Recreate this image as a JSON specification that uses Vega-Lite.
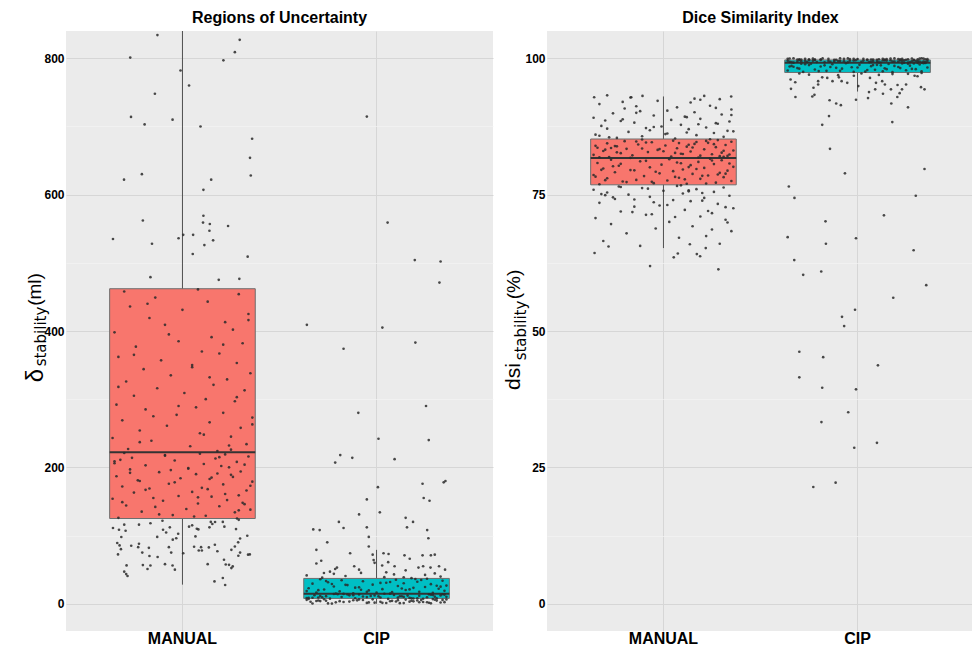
{
"$schema":"https://vega.github.io/schema/vega-lite/v6.json",
"autosize":{"type":"pad"},
"padding":{"left":23,"top":10,"right":0,"bottom":0},
"background":"#ffffff",
"bounds":"flush",
"spacing":54,
"config":{"view":{"fill":"#EBEBEB","stroke":null},"font":"Liberation Sans",
 "title":{"font":"Liberation Sans","fontSize":16,"fontWeight":"bold","color":"#000000","offset":5,"anchor":"middle"}},
"datasets":{
"roiBox":[{"g":"MANUAL","lo":28,"q1":125,"med":222,"q3":462,"hi":967},{"g":"CIP","lo":0,"q1":7.8,"med":14.7,"q3":37.1,"hi":79}],
"dsiBox":[{"g":"MANUAL","lo":65.2,"q1":76.8,"med":81.7,"q3":85.2,"hi":93.0},{"g":"CIP","lo":93.9,"q1":97.4,"med":99.2,"q3":99.7,"hi":100}],
"roi":[
{"g":"MANUAL","j":-0.358,"v":111},{"g":"MANUAL","j":-0.327,"v":108.5},{"g":"MANUAL","j":-0.30,"v":116},{"g":"MANUAL","j":-0.293,"v":107},{"g":"MANUAL","j":-0.315,"v":97.8},{"g":"MANUAL","j":-0.336,"v":89},{"g":"MANUAL","j":-0.324,"v":85.5},{"g":"MANUAL","j":-0.317,"v":80},{"g":"MANUAL","j":-0.332,"v":72.3},{"g":"MANUAL","j":-0.288,"v":56.2},{"g":"MANUAL","j":-0.30,"v":47},{"g":"MANUAL","j":-0.29,"v":43.5},{"g":"MANUAL","j":-0.283,"v":40.6},{"g":"MANUAL","j":-0.264,"v":85},{"g":"MANUAL","j":-0.224,"v":116},{"g":"MANUAL","j":-0.224,"v":88},{"g":"MANUAL","j":-0.228,"v":83},{"g":"MANUAL","j":-0.207,"v":75},{"g":"MANUAL","j":-0.204,"v":56.7},{"g":"MANUAL","j":-0.18,"v":51},{"g":"MANUAL","j":-0.165,"v":56},{"g":"MANUAL","j":-0.173,"v":82},{"g":"MANUAL","j":-0.17,"v":70},{"g":"MANUAL","j":-0.165,"v":118},{"g":"MANUAL","j":-0.13,"v":98},{"g":"MANUAL","j":-0.128,"v":68.5},{"g":"MANUAL","j":-0.103,"v":121.7},{"g":"MANUAL","j":-0.10,"v":108.5},{"g":"MANUAL","j":-0.084,"v":104.5},{"g":"MANUAL","j":-0.065,"v":112},{"g":"MANUAL","j":-0.07,"v":83},{"g":"MANUAL","j":-0.058,"v":75},{"g":"MANUAL","j":-0.09,"v":58},{"g":"MANUAL","j":-0.051,"v":56},{"g":"MANUAL","j":-0.039,"v":50},{"g":"MANUAL","j":-0.05,"v":94},{"g":"MANUAL","j":-0.032,"v":96},{"g":"MANUAL","j":-0.022,"v":102.6},{"g":"MANUAL","j":0.004,"v":74},{"g":"MANUAL","j":0.034,"v":113},{"g":"MANUAL","j":0.05,"v":115},{"g":"MANUAL","j":0.067,"v":98.7},{"g":"MANUAL","j":0.074,"v":110},{"g":"MANUAL","j":0.082,"v":109},{"g":"MANUAL","j":0.06,"v":83.6},{"g":"MANUAL","j":0.084,"v":78},{"g":"MANUAL","j":0.096,"v":83},{"g":"MANUAL","j":0.10,"v":78},{"g":"MANUAL","j":0.13,"v":58},{"g":"MANUAL","j":0.136,"v":82.6},{"g":"MANUAL","j":0.167,"v":86.5},{"g":"MANUAL","j":0.18,"v":77},{"g":"MANUAL","j":0.165,"v":32.7},{"g":"MANUAL","j":0.208,"v":37.7},{"g":"MANUAL","j":0.22,"v":27.4},{"g":"MANUAL","j":0.214,"v":64.5},{"g":"MANUAL","j":0.223,"v":57.6},{"g":"MANUAL","j":0.24,"v":57},{"g":"MANUAL","j":0.259,"v":54.7},{"g":"MANUAL","j":0.252,"v":52.3},{"g":"MANUAL","j":0.146,"v":120},{"g":"MANUAL","j":0.154,"v":117},{"g":"MANUAL","j":0.139,"v":112},{"g":"MANUAL","j":0.168,"v":119.8},{"g":"MANUAL","j":0.208,"v":120},{"g":"MANUAL","j":0.216,"v":113},{"g":"MANUAL","j":0.276,"v":109.5},{"g":"MANUAL","j":0.252,"v":79},{"g":"MANUAL","j":0.27,"v":84},{"g":"MANUAL","j":0.287,"v":90},{"g":"MANUAL","j":0.297,"v":95.7},{"g":"MANUAL","j":0.288,"v":70.4},{"g":"MANUAL","j":0.297,"v":75},{"g":"MANUAL","j":0.338,"v":72},{"g":"MANUAL","j":0.347,"v":72.3},{"g":"MANUAL","j":0.334,"v":99.7},{"g":"MANUAL","j":0.281,"v":125},{"g":"MANUAL","j":0.29,"v":123},
{"g":"MANUAL","j":-0.33,"v":126},{"g":"MANUAL","j":0.12,"v":129},{"g":"MANUAL","j":-0.05,"v":130},{"g":"MANUAL","j":0.27,"v":134},{"g":"MANUAL","j":-0.21,"v":135},{"g":"MANUAL","j":0.35,"v":138},{"g":"MANUAL","j":0.02,"v":139},{"g":"MANUAL","j":-0.14,"v":142},{"g":"MANUAL","j":0.19,"v":143},{"g":"MANUAL","j":-0.29,"v":144},{"g":"MANUAL","j":0.08,"v":147},{"g":"MANUAL","j":0.31,"v":148},{"g":"MANUAL","j":-0.10,"v":151},{"g":"MANUAL","j":0.23,"v":152},{"g":"MANUAL","j":-0.36,"v":154},{"g":"MANUAL","j":0.15,"v":157},{"g":"MANUAL","j":-0.02,"v":158},{"g":"MANUAL","j":0.29,"v":159},{"g":"MANUAL","j":-0.25,"v":163},{"g":"MANUAL","j":0.05,"v":164},{"g":"MANUAL","j":0.33,"v":166},{"g":"MANUAL","j":-0.17,"v":169},{"g":"MANUAL","j":0.10,"v":170},{"g":"MANUAL","j":-0.31,"v":172},{"g":"MANUAL","j":0.21,"v":175},{"g":"MANUAL","j":-0.07,"v":176},{"g":"MANUAL","j":0.36,"v":179},{"g":"MANUAL","j":-0.23,"v":181},{"g":"MANUAL","j":0.14,"v":183},{"g":"MANUAL","j":-0.01,"v":184},{"g":"MANUAL","j":0.26,"v":186},{"g":"MANUAL","j":-0.34,"v":187},{"g":"MANUAL","j":0.07,"v":190},{"g":"MANUAL","j":0.18,"v":191},{"g":"MANUAL","j":-0.12,"v":193},{"g":"MANUAL","j":0.30,"v":194},{"g":"MANUAL","j":-0.27,"v":197},{"g":"MANUAL","j":0.03,"v":199},{"g":"MANUAL","j":0.24,"v":200},{"g":"MANUAL","j":-0.19,"v":203},{"g":"MANUAL","j":0.11,"v":205},{"g":"MANUAL","j":-0.35,"v":206},{"g":"MANUAL","j":0.28,"v":208},{"g":"MANUAL","j":-0.04,"v":210},{"g":"MANUAL","j":0.17,"v":213},{"g":"MANUAL","j":-0.26,"v":214},{"g":"MANUAL","j":0.34,"v":216},{"g":"MANUAL","j":-0.09,"v":218},{"g":"MANUAL","j":0.22,"v":219},{"g":"MANUAL","j":-0.30,"v":221},{"g":"MANUAL","j":0.06,"v":128},{"g":"MANUAL","j":0.32,"v":146},{"g":"MANUAL","j":-0.15,"v":155},{"g":"MANUAL","j":0.13,"v":168},{"g":"MANUAL","j":-0.22,"v":180},{"g":"MANUAL","j":0.25,"v":189},{"g":"MANUAL","j":-0.06,"v":196},{"g":"MANUAL","j":0.20,"v":202},{"g":"MANUAL","j":-0.32,"v":211},{"g":"MANUAL","j":0.09,"v":220},
{"g":"MANUAL","j":0.18,"v":224},{"g":"MANUAL","j":-0.28,"v":227},{"g":"MANUAL","j":0.04,"v":231},{"g":"MANUAL","j":0.33,"v":234},{"g":"MANUAL","j":-0.16,"v":239},{"g":"MANUAL","j":-0.36,"v":243},{"g":"MANUAL","j":0.25,"v":245},{"g":"MANUAL","j":0.09,"v":250},{"g":"MANUAL","j":-0.22,"v":254},{"g":"MANUAL","j":0.30,"v":258},{"g":"MANUAL","j":-0.08,"v":261},{"g":"MANUAL","j":0.14,"v":266},{"g":"MANUAL","j":-0.31,"v":269},{"g":"MANUAL","j":0.36,"v":273},{"g":"MANUAL","j":-0.03,"v":277},{"g":"MANUAL","j":0.21,"v":280},{"g":"MANUAL","j":-0.19,"v":285},{"g":"MANUAL","j":0.07,"v":288},{"g":"MANUAL","j":-0.34,"v":292},{"g":"MANUAL","j":0.27,"v":297},{"g":"MANUAL","j":0.12,"v":300},{"g":"MANUAL","j":-0.25,"v":305},{"g":"MANUAL","j":0.01,"v":309},{"g":"MANUAL","j":0.32,"v":313},{"g":"MANUAL","j":-0.13,"v":316},{"g":"MANUAL","j":0.16,"v":321},{"g":"MANUAL","j":-0.29,"v":326},{"g":"MANUAL","j":0.23,"v":329},{"g":"MANUAL","j":-0.06,"v":335},{"g":"MANUAL","j":0.35,"v":338},{"g":"MANUAL","j":-0.20,"v":344},{"g":"MANUAL","j":0.05,"v":347},{"g":"MANUAL","j":0.28,"v":353},{"g":"MANUAL","j":-0.11,"v":357},{"g":"MANUAL","j":-0.33,"v":362},{"g":"MANUAL","j":0.19,"v":367},{"g":"MANUAL","j":0.10,"v":370},{"g":"MANUAL","j":-0.24,"v":377},{"g":"MANUAL","j":0.31,"v":382},{"g":"MANUAL","j":-0.02,"v":385},{"g":"MANUAL","j":0.15,"v":391},{"g":"MANUAL","j":-0.35,"v":398},{"g":"MANUAL","j":0.26,"v":402},{"g":"MANUAL","j":-0.09,"v":409},{"g":"MANUAL","j":0.22,"v":413},{"g":"MANUAL","j":-0.17,"v":419},{"g":"MANUAL","j":0.34,"v":425},{"g":"MANUAL","j":0.00,"v":431},{"g":"MANUAL","j":-0.27,"v":436},{"g":"MANUAL","j":0.13,"v":443},{"g":"MANUAL","j":-0.14,"v":449},{"g":"MANUAL","j":0.29,"v":454},{"g":"MANUAL","j":-0.30,"v":458},{"g":"MANUAL","j":0.08,"v":461},{"g":"MANUAL","j":0.24,"v":232},
{"g":"MANUAL","j":-0.12,"v":131},{"g":"MANUAL","j":0.29,"v":137},{"g":"MANUAL","j":-0.31,"v":149},{"g":"MANUAL","j":0.08,"v":156},{"g":"MANUAL","j":0.22,"v":161},{"g":"MANUAL","j":-0.19,"v":167},{"g":"MANUAL","j":0.35,"v":173},{"g":"MANUAL","j":-0.04,"v":178},{"g":"MANUAL","j":0.15,"v":185},{"g":"MANUAL","j":-0.27,"v":192},{"g":"MANUAL","j":0.03,"v":198},{"g":"MANUAL","j":0.32,"v":204},{"g":"MANUAL","j":-0.35,"v":209},{"g":"MANUAL","j":0.19,"v":215},{"g":"MANUAL","j":-0.09,"v":217},{"g":"MANUAL","j":0.25,"v":226},{"g":"MANUAL","j":-0.22,"v":237},{"g":"MANUAL","j":0.11,"v":248},{"g":"MANUAL","j":0.36,"v":263},{"g":"MANUAL","j":-0.15,"v":275},{"g":"MANUAL","j":-0.02,"v":290},{"g":"MANUAL","j":0.28,"v":303},{"g":"MANUAL","j":-0.33,"v":318},{"g":"MANUAL","j":0.14,"v":332},{"g":"MANUAL","j":0.05,"v":350},{"g":"MANUAL","j":-0.25,"v":365},{"g":"MANUAL","j":0.21,"v":380},{"g":"MANUAL","j":-0.07,"v":395},{"g":"MANUAL","j":0.34,"v":416},{"g":"MANUAL","j":-0.18,"v":440},
{"g":"MANUAL","j":-0.129,"v":834},{"g":"MANUAL","j":-0.269,"v":801},{"g":"MANUAL","j":0.295,"v":827},{"g":"MANUAL","j":0.27,"v":809},{"g":"MANUAL","j":0.211,"v":797},{"g":"MANUAL","j":-0.01,"v":782},{"g":"MANUAL","j":0.034,"v":760},{"g":"MANUAL","j":-0.142,"v":748},{"g":"MANUAL","j":-0.265,"v":714},{"g":"MANUAL","j":-0.051,"v":710},{"g":"MANUAL","j":-0.195,"v":703},{"g":"MANUAL","j":0.093,"v":700},{"g":"MANUAL","j":0.359,"v":682},{"g":"MANUAL","j":0.348,"v":654},{"g":"MANUAL","j":0.352,"v":628},{"g":"MANUAL","j":-0.209,"v":630},{"g":"MANUAL","j":-0.301,"v":622},{"g":"MANUAL","j":0.148,"v":622},{"g":"MANUAL","j":0.108,"v":607},{"g":"MANUAL","j":0.108,"v":569},{"g":"MANUAL","j":0.106,"v":559},{"g":"MANUAL","j":0.141,"v":557},{"g":"MANUAL","j":0.139,"v":547},{"g":"MANUAL","j":0.235,"v":554},{"g":"MANUAL","j":-0.204,"v":562},{"g":"MANUAL","j":-0.358,"v":535},{"g":"MANUAL","j":-0.157,"v":528},{"g":"MANUAL","j":-0.02,"v":536},{"g":"MANUAL","j":0.004,"v":541},{"g":"MANUAL","j":0.055,"v":541},{"g":"MANUAL","j":0.158,"v":533},{"g":"MANUAL","j":0.113,"v":526},{"g":"MANUAL","j":0.053,"v":513},{"g":"MANUAL","j":0.336,"v":509},{"g":"MANUAL","j":-0.165,"v":479},{"g":"MANUAL","j":0.187,"v":475},{"g":"MANUAL","j":0.293,"v":476.5},
{"g":"CIP","j":-0.33,"v":0.3},{"g":"CIP","j":0.12,"v":0.8},{"g":"CIP","j":-0.05,"v":1.2},{"g":"CIP","j":0.27,"v":1.5},{"g":"CIP","j":-0.21,"v":2.0},{"g":"CIP","j":0.35,"v":2.3},{"g":"CIP","j":0.02,"v":2.8},{"g":"CIP","j":-0.14,"v":3.1},{"g":"CIP","j":0.19,"v":3.5},{"g":"CIP","j":-0.29,"v":3.9},{"g":"CIP","j":0.08,"v":4.2},{"g":"CIP","j":0.31,"v":4.6},{"g":"CIP","j":-0.10,"v":5.0},{"g":"CIP","j":0.23,"v":5.3},{"g":"CIP","j":-0.36,"v":5.7},{"g":"CIP","j":0.15,"v":6.1},{"g":"CIP","j":-0.02,"v":6.4},{"g":"CIP","j":0.29,"v":6.8},{"g":"CIP","j":-0.25,"v":0.5},{"g":"CIP","j":0.05,"v":1.0},{"g":"CIP","j":0.33,"v":1.8},{"g":"CIP","j":-0.17,"v":2.5},{"g":"CIP","j":0.10,"v":3.3},{"g":"CIP","j":-0.31,"v":4.0},{"g":"CIP","j":0.21,"v":4.8},{"g":"CIP","j":-0.07,"v":5.5},{"g":"CIP","j":0.36,"v":6.2},{"g":"CIP","j":-0.23,"v":0.2},{"g":"CIP","j":0.14,"v":0.9},{"g":"CIP","j":-0.01,"v":1.6},{"g":"CIP","j":0.26,"v":2.1},{"g":"CIP","j":-0.34,"v":2.9},{"g":"CIP","j":0.07,"v":3.7},{"g":"CIP","j":0.18,"v":4.4},{"g":"CIP","j":-0.12,"v":5.1},{"g":"CIP","j":0.30,"v":5.9},{"g":"CIP","j":-0.27,"v":6.6},{"g":"CIP","j":0.03,"v":1.3},{"g":"CIP","j":0.24,"v":2.6},{"g":"CIP","j":-0.19,"v":3.8},{"g":"CIP","j":0.11,"v":5.2},{"g":"CIP","j":-0.35,"v":6.9},{"g":"CIP","j":0.28,"v":0.6},{"g":"CIP","j":-0.04,"v":1.9},{"g":"CIP","j":0.17,"v":3.0},{"g":"CIP","j":-0.26,"v":4.3},{"g":"CIP","j":0.34,"v":5.6},{"g":"CIP","j":-0.09,"v":6.3},{"g":"CIP","j":0.22,"v":2.2},{"g":"CIP","j":-0.30,"v":4.7},
{"g":"CIP","j":0.06,"v":7.1},{"g":"CIP","j":-0.24,"v":7.4},{"g":"CIP","j":0.31,"v":7.8},{"g":"CIP","j":-0.11,"v":8.1},{"g":"CIP","j":0.17,"v":8.5},{"g":"CIP","j":-0.35,"v":8.8},{"g":"CIP","j":0.02,"v":9.2},{"g":"CIP","j":0.26,"v":9.5},{"g":"CIP","j":-0.18,"v":9.9},{"g":"CIP","j":0.36,"v":10.2},{"g":"CIP","j":-0.07,"v":10.6},{"g":"CIP","j":0.13,"v":10.9},{"g":"CIP","j":-0.29,"v":11.3},{"g":"CIP","j":0.22,"v":11.7},{"g":"CIP","j":-0.01,"v":12.0},{"g":"CIP","j":-0.32,"v":12.4},{"g":"CIP","j":0.09,"v":12.8},{"g":"CIP","j":0.28,"v":13.1},{"g":"CIP","j":-0.15,"v":13.5},{"g":"CIP","j":0.34,"v":13.9},{"g":"CIP","j":-0.22,"v":14.2},{"g":"CIP","j":0.04,"v":14.6},{"g":"CIP","j":0.19,"v":7.6},{"g":"CIP","j":-0.36,"v":8.3},{"g":"CIP","j":0.11,"v":9.0},{"g":"CIP","j":-0.05,"v":9.7},{"g":"CIP","j":0.30,"v":10.4},{"g":"CIP","j":-0.26,"v":11.1},{"g":"CIP","j":0.16,"v":11.9},{"g":"CIP","j":-0.12,"v":12.6},{"g":"CIP","j":0.35,"v":13.3},{"g":"CIP","j":-0.20,"v":14.0},{"g":"CIP","j":0.07,"v":14.8},{"g":"CIP","j":0.24,"v":7.3},{"g":"CIP","j":-0.33,"v":8.7},{"g":"CIP","j":0.14,"v":10.0},{"g":"CIP","j":-0.03,"v":11.5},{"g":"CIP","j":0.29,"v":12.9},{"g":"CIP","j":-0.17,"v":14.4},{"g":"CIP","j":0.21,"v":8.0},{"g":"CIP","j":-0.28,"v":9.4},{"g":"CIP","j":0.01,"v":10.8},{"g":"CIP","j":0.33,"v":12.2},{"g":"CIP","j":-0.09,"v":13.7},{"g":"CIP","j":0.18,"v":7.9},{"g":"CIP","j":-0.30,"v":9.1},{"g":"CIP","j":0.12,"v":11.0},{"g":"CIP","j":-0.14,"v":12.3},{"g":"CIP","j":0.27,"v":13.8},{"g":"CIP","j":-0.21,"v":14.9},
{"g":"CIP","j":-0.12,"v":15.3},{"g":"CIP","j":0.29,"v":15.9},{"g":"CIP","j":-0.31,"v":16.5},{"g":"CIP","j":0.08,"v":17.0},{"g":"CIP","j":0.22,"v":17.6},{"g":"CIP","j":-0.19,"v":18.2},{"g":"CIP","j":0.35,"v":18.9},{"g":"CIP","j":-0.04,"v":19.5},{"g":"CIP","j":0.15,"v":20.1},{"g":"CIP","j":-0.27,"v":20.8},{"g":"CIP","j":0.03,"v":21.4},{"g":"CIP","j":0.32,"v":22.0},{"g":"CIP","j":-0.35,"v":22.7},{"g":"CIP","j":0.19,"v":23.3},{"g":"CIP","j":-0.09,"v":24.0},{"g":"CIP","j":0.25,"v":24.6},{"g":"CIP","j":-0.22,"v":25.3},{"g":"CIP","j":0.11,"v":26.0},{"g":"CIP","j":0.36,"v":26.6},{"g":"CIP","j":-0.15,"v":27.3},{"g":"CIP","j":-0.02,"v":28.0},{"g":"CIP","j":0.28,"v":28.7},{"g":"CIP","j":-0.33,"v":29.4},{"g":"CIP","j":0.14,"v":30.1},{"g":"CIP","j":0.05,"v":30.8},{"g":"CIP","j":-0.25,"v":31.5},{"g":"CIP","j":0.21,"v":32.2},{"g":"CIP","j":-0.07,"v":33.0},{"g":"CIP","j":0.34,"v":33.7},{"g":"CIP","j":-0.18,"v":34.4},{"g":"CIP","j":0.10,"v":35.2},{"g":"CIP","j":-0.29,"v":35.9},{"g":"CIP","j":0.26,"v":36.6},{"g":"CIP","j":0.00,"v":16.2},{"g":"CIP","j":-0.36,"v":18.5},{"g":"CIP","j":0.17,"v":21.0},{"g":"CIP","j":-0.11,"v":23.6},{"g":"CIP","j":0.31,"v":26.3},{"g":"CIP","j":-0.23,"v":29.0},{"g":"CIP","j":0.07,"v":31.8},{"g":"CIP","j":0.23,"v":34.8},{"g":"CIP","j":-0.05,"v":17.3},{"g":"CIP","j":-0.30,"v":19.9},{"g":"CIP","j":0.13,"v":22.4},{"g":"CIP","j":0.33,"v":25.0},{"g":"CIP","j":-0.16,"v":27.7},{"g":"CIP","j":0.02,"v":30.5},{"g":"CIP","j":-0.26,"v":33.4},{"g":"CIP","j":0.20,"v":36.2},{"g":"CIP","j":-0.08,"v":20.5},
{"g":"CIP","j":0.18,"v":37.5},{"g":"CIP","j":-0.28,"v":38.2},{"g":"CIP","j":0.04,"v":39.0},{"g":"CIP","j":0.33,"v":39.8},{"g":"CIP","j":-0.16,"v":40.6},{"g":"CIP","j":-0.36,"v":41.5},{"g":"CIP","j":0.25,"v":42.3},{"g":"CIP","j":0.09,"v":43.0},{"g":"CIP","j":-0.22,"v":43.8},{"g":"CIP","j":0.30,"v":44.5},{"g":"CIP","j":-0.08,"v":45.2},{"g":"CIP","j":0.14,"v":38.8},
{"g":"CIP","j":-0.05,"v":714.5},{"g":"CIP","j":0.057,"v":559},{"g":"CIP","j":0.197,"v":504},{"g":"CIP","j":0.33,"v":502},{"g":"CIP","j":0.324,"v":471},{"g":"CIP","j":-0.359,"v":409},{"g":"CIP","j":0.03,"v":405},{"g":"CIP","j":0.2,"v":383},{"g":"CIP","j":-0.17,"v":374},{"g":"CIP","j":-0.094,"v":280},{"g":"CIP","j":0.255,"v":290},{"g":"CIP","j":0.269,"v":240},{"g":"CIP","j":0.01,"v":242},{"g":"CIP","j":-0.187,"v":218},{"g":"CIP","j":-0.125,"v":214},{"g":"CIP","j":-0.213,"v":207},{"g":"CIP","j":0.093,"v":212},{"g":"CIP","j":0.007,"v":171},{"g":"CIP","j":0.237,"v":176},{"g":"CIP","j":0.346,"v":178},{"g":"CIP","j":0.355,"v":180},{"g":"CIP","j":0.243,"v":155},{"g":"CIP","j":0.273,"v":151},{"g":"CIP","j":-0.05,"v":153},{"g":"CIP","j":-0.09,"v":131},{"g":"CIP","j":0.017,"v":134},{"g":"CIP","j":-0.194,"v":120},{"g":"CIP","j":-0.17,"v":111},{"g":"CIP","j":0.15,"v":126},{"g":"CIP","j":0.188,"v":120},{"g":"CIP","j":0.157,"v":112},{"g":"CIP","j":-0.05,"v":112},{"g":"CIP","j":0.261,"v":108},{"g":"CIP","j":0.267,"v":96},{"g":"CIP","j":-0.326,"v":109},{"g":"CIP","j":-0.293,"v":108},{"g":"CIP","j":-0.254,"v":90},{"g":"CIP","j":-0.04,"v":98},{"g":"CIP","j":-0.31,"v":79},{"g":"CIP","j":-0.04,"v":84},{"g":"CIP","j":-0.285,"v":63},{"g":"CIP","j":-0.31,"v":59},{"g":"CIP","j":-0.136,"v":74},{"g":"CIP","j":-0.02,"v":72},{"g":"CIP","j":0.036,"v":74},{"g":"CIP","j":0.062,"v":73},{"g":"CIP","j":0.144,"v":71},{"g":"CIP","j":0.171,"v":66},{"g":"CIP","j":0.237,"v":71},{"g":"CIP","j":0.28,"v":71},{"g":"CIP","j":0.30,"v":72},{"g":"CIP","j":-0.015,"v":64},{"g":"CIP","j":-0.01,"v":60},{"g":"CIP","j":0.06,"v":61},{"g":"CIP","j":-0.115,"v":55},{"g":"CIP","j":-0.09,"v":50},{"g":"CIP","j":-0.204,"v":53},{"g":"CIP","j":-0.213,"v":51},{"g":"CIP","j":0.029,"v":56},{"g":"CIP","j":0.093,"v":55},{"g":"CIP","j":0.15,"v":49},{"g":"CIP","j":0.216,"v":53},{"g":"CIP","j":0.24,"v":55},{"g":"CIP","j":0.278,"v":53},{"g":"CIP","j":0.322,"v":55},{"g":"CIP","j":0.353,"v":50},{"g":"CIP","j":0.05,"v":46},{"g":"CIP","j":-0.271,"v":45},{"g":"CIP","j":-0.24,"v":47}
],
"dsi":[
{"g":"MANUAL","j":-0.12,"v":65.6},{"g":"MANUAL","j":0.29,"v":66.0},{"g":"MANUAL","j":-0.31,"v":66.5},{"g":"MANUAL","j":0.08,"v":67.1},{"g":"MANUAL","j":0.22,"v":67.4},{"g":"MANUAL","j":-0.19,"v":67.9},{"g":"MANUAL","j":0.35,"v":68.3},{"g":"MANUAL","j":-0.04,"v":68.8},{"g":"MANUAL","j":0.15,"v":69.2},{"g":"MANUAL","j":-0.27,"v":69.6},{"g":"MANUAL","j":0.03,"v":70.0},{"g":"MANUAL","j":0.32,"v":70.4},{"g":"MANUAL","j":-0.35,"v":70.7},{"g":"MANUAL","j":0.19,"v":71.0},{"g":"MANUAL","j":-0.09,"v":71.3},{"g":"MANUAL","j":0.25,"v":71.6},{"g":"MANUAL","j":-0.22,"v":71.9},{"g":"MANUAL","j":0.11,"v":72.2},{"g":"MANUAL","j":0.36,"v":72.5},{"g":"MANUAL","j":-0.15,"v":72.8},{"g":"MANUAL","j":-0.02,"v":73.0},{"g":"MANUAL","j":0.28,"v":73.3},{"g":"MANUAL","j":-0.33,"v":73.5},{"g":"MANUAL","j":0.14,"v":73.8},{"g":"MANUAL","j":0.05,"v":74.0},{"g":"MANUAL","j":-0.25,"v":74.2},{"g":"MANUAL","j":0.21,"v":74.4},{"g":"MANUAL","j":-0.07,"v":74.6},{"g":"MANUAL","j":0.34,"v":74.8},{"g":"MANUAL","j":-0.18,"v":75.0},{"g":"MANUAL","j":0.10,"v":75.2},{"g":"MANUAL","j":-0.29,"v":75.4},{"g":"MANUAL","j":0.26,"v":75.5},{"g":"MANUAL","j":0.00,"v":75.7},{"g":"MANUAL","j":-0.36,"v":75.9},{"g":"MANUAL","j":0.17,"v":76.0},{"g":"MANUAL","j":-0.11,"v":76.2},{"g":"MANUAL","j":0.31,"v":76.3},{"g":"MANUAL","j":-0.23,"v":76.5},{"g":"MANUAL","j":0.07,"v":76.6},{"g":"MANUAL","j":0.23,"v":72.0},{"g":"MANUAL","j":-0.05,"v":73.6},{"g":"MANUAL","j":-0.30,"v":74.9},{"g":"MANUAL","j":0.13,"v":75.8},{"g":"MANUAL","j":0.33,"v":69.9},{"g":"MANUAL","j":-0.16,"v":71.8},{"g":"MANUAL","j":0.02,"v":73.1},{"g":"MANUAL","j":-0.26,"v":74.5},{"g":"MANUAL","j":0.20,"v":75.3},{"g":"MANUAL","j":-0.08,"v":76.1},{"g":"MANUAL","j":0.06,"v":70.9},{"g":"MANUAL","j":0.32,"v":72.7},{"g":"MANUAL","j":-0.15,"v":74.1},{"g":"MANUAL","j":0.13,"v":75.6},{"g":"MANUAL","j":-0.22,"v":76.4},{"g":"MANUAL","j":0.25,"v":68.6},{"g":"MANUAL","j":-0.06,"v":71.4},{"g":"MANUAL","j":0.20,"v":73.9},{"g":"MANUAL","j":-0.32,"v":75.1},{"g":"MANUAL","j":0.09,"v":76.7},
{"g":"MANUAL","j":-0.33,"v":76.9},{"g":"MANUAL","j":0.12,"v":77.0},{"g":"MANUAL","j":-0.05,"v":77.1},{"g":"MANUAL","j":0.27,"v":77.2},{"g":"MANUAL","j":-0.21,"v":77.4},{"g":"MANUAL","j":0.35,"v":77.5},{"g":"MANUAL","j":0.02,"v":77.6},{"g":"MANUAL","j":-0.14,"v":77.7},{"g":"MANUAL","j":0.19,"v":77.9},{"g":"MANUAL","j":-0.29,"v":78.0},{"g":"MANUAL","j":0.08,"v":78.1},{"g":"MANUAL","j":0.31,"v":78.2},{"g":"MANUAL","j":-0.10,"v":78.4},{"g":"MANUAL","j":0.23,"v":78.5},{"g":"MANUAL","j":-0.36,"v":78.6},{"g":"MANUAL","j":0.15,"v":78.8},{"g":"MANUAL","j":-0.02,"v":78.9},{"g":"MANUAL","j":0.29,"v":79.0},{"g":"MANUAL","j":-0.25,"v":79.1},{"g":"MANUAL","j":0.05,"v":79.3},{"g":"MANUAL","j":0.33,"v":79.4},{"g":"MANUAL","j":-0.17,"v":79.5},{"g":"MANUAL","j":0.10,"v":79.6},{"g":"MANUAL","j":-0.31,"v":79.8},{"g":"MANUAL","j":0.21,"v":79.9},{"g":"MANUAL","j":-0.07,"v":80.0},{"g":"MANUAL","j":0.36,"v":80.1},{"g":"MANUAL","j":-0.23,"v":80.3},{"g":"MANUAL","j":0.14,"v":80.4},{"g":"MANUAL","j":-0.01,"v":80.5},{"g":"MANUAL","j":0.26,"v":80.6},{"g":"MANUAL","j":-0.34,"v":80.8},{"g":"MANUAL","j":0.07,"v":80.9},{"g":"MANUAL","j":0.18,"v":81.0},{"g":"MANUAL","j":-0.12,"v":81.1},{"g":"MANUAL","j":0.30,"v":81.3},{"g":"MANUAL","j":-0.27,"v":81.4},{"g":"MANUAL","j":0.03,"v":81.5},{"g":"MANUAL","j":0.24,"v":81.6},{"g":"MANUAL","j":-0.19,"v":77.3},{"g":"MANUAL","j":0.11,"v":77.8},{"g":"MANUAL","j":-0.35,"v":78.3},{"g":"MANUAL","j":0.28,"v":78.7},{"g":"MANUAL","j":-0.04,"v":79.2},{"g":"MANUAL","j":0.17,"v":79.7},{"g":"MANUAL","j":-0.26,"v":80.2},{"g":"MANUAL","j":0.34,"v":80.7},{"g":"MANUAL","j":-0.09,"v":81.2},{"g":"MANUAL","j":0.22,"v":77.05},{"g":"MANUAL","j":-0.30,"v":77.65},{"g":"MANUAL","j":0.06,"v":78.25},{"g":"MANUAL","j":0.32,"v":78.85},{"g":"MANUAL","j":-0.15,"v":79.45},{"g":"MANUAL","j":0.13,"v":80.05},{"g":"MANUAL","j":-0.22,"v":80.65},{"g":"MANUAL","j":0.25,"v":81.25},{"g":"MANUAL","j":-0.06,"v":77.35},{"g":"MANUAL","j":0.20,"v":78.45},{"g":"MANUAL","j":-0.32,"v":79.55},{"g":"MANUAL","j":0.09,"v":80.75},
{"g":"MANUAL","j":0.18,"v":81.8},{"g":"MANUAL","j":-0.28,"v":81.9},{"g":"MANUAL","j":0.04,"v":82.0},{"g":"MANUAL","j":0.33,"v":82.1},{"g":"MANUAL","j":-0.16,"v":82.2},{"g":"MANUAL","j":-0.36,"v":82.3},{"g":"MANUAL","j":0.25,"v":82.4},{"g":"MANUAL","j":0.09,"v":82.5},{"g":"MANUAL","j":-0.22,"v":82.6},{"g":"MANUAL","j":0.30,"v":82.7},{"g":"MANUAL","j":-0.08,"v":82.8},{"g":"MANUAL","j":0.14,"v":82.9},{"g":"MANUAL","j":-0.31,"v":83.0},{"g":"MANUAL","j":0.36,"v":83.1},{"g":"MANUAL","j":-0.03,"v":83.2},{"g":"MANUAL","j":0.21,"v":83.3},{"g":"MANUAL","j":-0.19,"v":83.4},{"g":"MANUAL","j":0.07,"v":83.5},{"g":"MANUAL","j":-0.34,"v":83.6},{"g":"MANUAL","j":0.27,"v":83.7},{"g":"MANUAL","j":0.12,"v":83.8},{"g":"MANUAL","j":-0.25,"v":83.9},{"g":"MANUAL","j":0.01,"v":84.0},{"g":"MANUAL","j":0.32,"v":84.1},{"g":"MANUAL","j":-0.13,"v":84.2},{"g":"MANUAL","j":0.16,"v":84.3},{"g":"MANUAL","j":-0.29,"v":84.4},{"g":"MANUAL","j":0.23,"v":84.5},{"g":"MANUAL","j":-0.06,"v":84.6},{"g":"MANUAL","j":0.35,"v":84.7},{"g":"MANUAL","j":-0.20,"v":84.8},{"g":"MANUAL","j":0.05,"v":84.9},{"g":"MANUAL","j":0.28,"v":85.0},{"g":"MANUAL","j":-0.11,"v":85.1},{"g":"MANUAL","j":-0.33,"v":81.85},{"g":"MANUAL","j":0.19,"v":82.15},{"g":"MANUAL","j":0.10,"v":82.45},{"g":"MANUAL","j":-0.24,"v":82.75},{"g":"MANUAL","j":0.31,"v":83.05},{"g":"MANUAL","j":-0.02,"v":83.35},{"g":"MANUAL","j":0.15,"v":83.65},{"g":"MANUAL","j":-0.35,"v":83.95},{"g":"MANUAL","j":0.26,"v":84.25},{"g":"MANUAL","j":-0.09,"v":84.55},{"g":"MANUAL","j":0.22,"v":84.85},{"g":"MANUAL","j":-0.17,"v":81.75},{"g":"MANUAL","j":0.34,"v":82.35},{"g":"MANUAL","j":0.00,"v":82.95},{"g":"MANUAL","j":-0.27,"v":83.55},{"g":"MANUAL","j":0.13,"v":84.15},{"g":"MANUAL","j":-0.14,"v":84.75},{"g":"MANUAL","j":0.29,"v":82.05},{"g":"MANUAL","j":-0.30,"v":83.25},{"g":"MANUAL","j":0.08,"v":84.45},{"g":"MANUAL","j":0.24,"v":85.15},{"g":"MANUAL","j":0.06,"v":82.65},{"g":"MANUAL","j":-0.24,"v":83.85},{"g":"MANUAL","j":0.31,"v":81.95},{"g":"MANUAL","j":-0.11,"v":83.45},{"g":"MANUAL","j":0.17,"v":84.65},
{"g":"MANUAL","j":0.06,"v":85.3},{"g":"MANUAL","j":-0.24,"v":85.4},{"g":"MANUAL","j":0.31,"v":85.6},{"g":"MANUAL","j":-0.11,"v":85.7},{"g":"MANUAL","j":0.17,"v":85.9},{"g":"MANUAL","j":-0.35,"v":86.0},{"g":"MANUAL","j":0.02,"v":86.2},{"g":"MANUAL","j":0.26,"v":86.3},{"g":"MANUAL","j":-0.18,"v":86.5},{"g":"MANUAL","j":0.36,"v":86.6},{"g":"MANUAL","j":-0.07,"v":86.8},{"g":"MANUAL","j":0.13,"v":87.0},{"g":"MANUAL","j":-0.29,"v":87.1},{"g":"MANUAL","j":0.22,"v":87.3},{"g":"MANUAL","j":-0.01,"v":87.5},{"g":"MANUAL","j":-0.32,"v":87.6},{"g":"MANUAL","j":0.09,"v":87.8},{"g":"MANUAL","j":0.28,"v":88.0},{"g":"MANUAL","j":-0.15,"v":88.2},{"g":"MANUAL","j":0.34,"v":88.4},{"g":"MANUAL","j":-0.22,"v":88.5},{"g":"MANUAL","j":0.04,"v":88.7},{"g":"MANUAL","j":0.19,"v":88.9},{"g":"MANUAL","j":-0.36,"v":89.1},{"g":"MANUAL","j":0.11,"v":89.3},{"g":"MANUAL","j":-0.05,"v":89.5},{"g":"MANUAL","j":0.30,"v":89.7},{"g":"MANUAL","j":-0.26,"v":89.9},{"g":"MANUAL","j":0.16,"v":90.1},{"g":"MANUAL","j":-0.12,"v":90.3},{"g":"MANUAL","j":0.35,"v":90.6},{"g":"MANUAL","j":-0.20,"v":90.8},{"g":"MANUAL","j":0.07,"v":91.0},{"g":"MANUAL","j":0.24,"v":91.3},{"g":"MANUAL","j":-0.33,"v":91.6},{"g":"MANUAL","j":0.14,"v":91.9},{"g":"MANUAL","j":-0.03,"v":92.2},{"g":"MANUAL","j":0.29,"v":92.5},{"g":"MANUAL","j":-0.17,"v":92.8},{"g":"MANUAL","j":0.21,"v":93.1},{"g":"MANUAL","j":-0.28,"v":85.5},{"g":"MANUAL","j":0.01,"v":86.1},{"g":"MANUAL","j":0.33,"v":86.7},{"g":"MANUAL","j":-0.09,"v":87.2},{"g":"MANUAL","j":0.18,"v":87.9},{"g":"MANUAL","j":-0.30,"v":88.6},{"g":"MANUAL","j":0.12,"v":89.2},{"g":"MANUAL","j":-0.14,"v":90.0},{"g":"MANUAL","j":0.27,"v":90.9},{"g":"MANUAL","j":-0.21,"v":92.0},{"g":"MANUAL","j":-0.33,"v":85.8},{"g":"MANUAL","j":0.12,"v":86.4},{"g":"MANUAL","j":-0.05,"v":87.4},{"g":"MANUAL","j":0.27,"v":88.1},{"g":"MANUAL","j":-0.21,"v":88.8},{"g":"MANUAL","j":0.35,"v":89.6},{"g":"MANUAL","j":0.02,"v":90.4},{"g":"MANUAL","j":-0.14,"v":91.2},{"g":"MANUAL","j":0.19,"v":92.4},{"g":"MANUAL","j":-0.29,"v":93.2},
{"g":"MANUAL","j":-0.357,"v":92.85},{"g":"MANUAL","j":-0.166,"v":92.85},{"g":"MANUAL","j":-0.108,"v":93.1},{"g":"MANUAL","j":0.349,"v":93.0},{"g":"MANUAL","j":0.16,"v":92.6},
{"g":"MANUAL","j":-0.355,"v":64.3},{"g":"MANUAL","j":-0.069,"v":61.9},{"g":"MANUAL","j":0.283,"v":61.3},{"g":"MANUAL","j":0.053,"v":63.5},{"g":"MANUAL","j":0.074,"v":64.2},{"g":"MANUAL","j":0.172,"v":64.1},{"g":"MANUAL","j":0.189,"v":63.7},{"g":"MANUAL","j":0.218,"v":65.2},{"g":"MANUAL","j":0.136,"v":65.9},{"g":"MANUAL","j":-0.283,"v":65.5},
{"g":"CIP","j":0.18,"v":97.45},{"g":"CIP","j":-0.28,"v":97.5},{"g":"CIP","j":0.04,"v":97.55},{"g":"CIP","j":0.33,"v":97.6},{"g":"CIP","j":-0.16,"v":97.7},{"g":"CIP","j":-0.36,"v":97.75},{"g":"CIP","j":0.25,"v":97.8},{"g":"CIP","j":0.09,"v":97.9},{"g":"CIP","j":-0.22,"v":97.95},{"g":"CIP","j":0.30,"v":98.0},{"g":"CIP","j":-0.08,"v":98.1},{"g":"CIP","j":0.14,"v":98.15},{"g":"CIP","j":-0.31,"v":98.2},{"g":"CIP","j":0.36,"v":98.3},{"g":"CIP","j":-0.03,"v":98.35},{"g":"CIP","j":0.21,"v":98.4},{"g":"CIP","j":-0.19,"v":98.5},{"g":"CIP","j":0.07,"v":98.55},{"g":"CIP","j":-0.34,"v":98.6},{"g":"CIP","j":0.27,"v":98.65},{"g":"CIP","j":0.12,"v":98.7},{"g":"CIP","j":-0.25,"v":98.75},{"g":"CIP","j":0.01,"v":98.8},{"g":"CIP","j":0.32,"v":98.85},{"g":"CIP","j":-0.13,"v":98.9},{"g":"CIP","j":0.16,"v":98.95},{"g":"CIP","j":-0.29,"v":99.0},{"g":"CIP","j":0.23,"v":99.05},{"g":"CIP","j":-0.06,"v":99.1},{"g":"CIP","j":0.35,"v":99.15},{"g":"CIP","j":-0.20,"v":97.65},{"g":"CIP","j":0.05,"v":97.85},{"g":"CIP","j":0.28,"v":98.05},{"g":"CIP","j":-0.11,"v":98.25},{"g":"CIP","j":-0.33,"v":98.45},{"g":"CIP","j":0.19,"v":98.6},{"g":"CIP","j":0.10,"v":98.8},{"g":"CIP","j":-0.24,"v":99.0},{"g":"CIP","j":0.31,"v":99.15},{"g":"CIP","j":-0.02,"v":97.5},{"g":"CIP","j":0.15,"v":98.0},{"g":"CIP","j":-0.35,"v":98.5},{"g":"CIP","j":0.26,"v":99.0},{"g":"CIP","j":-0.09,"v":97.7},{"g":"CIP","j":0.22,"v":98.2},{"g":"CIP","j":-0.17,"v":98.7},{"g":"CIP","j":0.34,"v":99.1},{"g":"CIP","j":0.00,"v":98.3},{"g":"CIP","j":-0.27,"v":98.9},{"g":"CIP","j":0.13,"v":97.6},{"g":"CIP","j":-0.14,"v":98.4},{"g":"CIP","j":0.29,"v":99.05},{"g":"CIP","j":-0.30,"v":98.1},{"g":"CIP","j":0.08,"v":98.75},{"g":"CIP","j":0.24,"v":99.2},
{"g":"CIP","j":-0.33,"v":99.2},{"g":"CIP","j":0.12,"v":99.22},{"g":"CIP","j":-0.05,"v":99.25},{"g":"CIP","j":0.27,"v":99.27},{"g":"CIP","j":-0.21,"v":99.3},{"g":"CIP","j":0.35,"v":99.32},{"g":"CIP","j":0.02,"v":99.35},{"g":"CIP","j":-0.14,"v":99.37},{"g":"CIP","j":0.19,"v":99.4},{"g":"CIP","j":-0.29,"v":99.42},{"g":"CIP","j":0.08,"v":99.45},{"g":"CIP","j":0.31,"v":99.47},{"g":"CIP","j":-0.10,"v":99.5},{"g":"CIP","j":0.23,"v":99.52},{"g":"CIP","j":-0.36,"v":99.55},{"g":"CIP","j":0.15,"v":99.57},{"g":"CIP","j":-0.02,"v":99.6},{"g":"CIP","j":0.29,"v":99.62},{"g":"CIP","j":-0.25,"v":99.65},{"g":"CIP","j":0.05,"v":99.67},{"g":"CIP","j":0.33,"v":99.21},{"g":"CIP","j":-0.17,"v":99.26},{"g":"CIP","j":0.10,"v":99.31},{"g":"CIP","j":-0.31,"v":99.36},{"g":"CIP","j":0.21,"v":99.41},{"g":"CIP","j":-0.07,"v":99.46},{"g":"CIP","j":0.36,"v":99.51},{"g":"CIP","j":-0.23,"v":99.56},{"g":"CIP","j":0.14,"v":99.61},{"g":"CIP","j":-0.01,"v":99.66},{"g":"CIP","j":0.26,"v":99.23},{"g":"CIP","j":-0.34,"v":99.28},{"g":"CIP","j":0.07,"v":99.33},{"g":"CIP","j":0.18,"v":99.38},{"g":"CIP","j":-0.12,"v":99.43},{"g":"CIP","j":0.30,"v":99.48},{"g":"CIP","j":-0.27,"v":99.53},{"g":"CIP","j":0.03,"v":99.58},{"g":"CIP","j":0.24,"v":99.63},{"g":"CIP","j":-0.19,"v":99.68},{"g":"CIP","j":0.11,"v":99.24},{"g":"CIP","j":-0.35,"v":99.34},{"g":"CIP","j":0.28,"v":99.44},{"g":"CIP","j":-0.04,"v":99.54},{"g":"CIP","j":0.17,"v":99.64},{"g":"CIP","j":-0.26,"v":99.29},{"g":"CIP","j":0.34,"v":99.39},{"g":"CIP","j":-0.09,"v":99.49},{"g":"CIP","j":0.22,"v":99.59},{"g":"CIP","j":-0.30,"v":99.69},{"g":"CIP","j":0.06,"v":99.3},{"g":"CIP","j":0.32,"v":99.4},{"g":"CIP","j":-0.15,"v":99.5},{"g":"CIP","j":0.13,"v":99.6},{"g":"CIP","j":-0.22,"v":99.7},
{"g":"CIP","j":-0.12,"v":99.71},{"g":"CIP","j":0.29,"v":99.73},{"g":"CIP","j":-0.31,"v":99.75},{"g":"CIP","j":0.08,"v":99.77},{"g":"CIP","j":0.22,"v":99.79},{"g":"CIP","j":-0.19,"v":99.81},{"g":"CIP","j":0.35,"v":99.83},{"g":"CIP","j":-0.04,"v":99.85},{"g":"CIP","j":0.15,"v":99.87},{"g":"CIP","j":-0.27,"v":99.89},{"g":"CIP","j":0.03,"v":99.91},{"g":"CIP","j":0.32,"v":99.93},{"g":"CIP","j":-0.35,"v":99.95},{"g":"CIP","j":0.19,"v":99.97},{"g":"CIP","j":-0.09,"v":99.99},{"g":"CIP","j":0.25,"v":99.72},{"g":"CIP","j":-0.22,"v":99.76},{"g":"CIP","j":0.11,"v":99.8},{"g":"CIP","j":0.36,"v":99.84},{"g":"CIP","j":-0.15,"v":99.88},{"g":"CIP","j":-0.02,"v":99.92},{"g":"CIP","j":0.28,"v":99.96},{"g":"CIP","j":-0.33,"v":100},{"g":"CIP","j":0.14,"v":99.74},{"g":"CIP","j":0.05,"v":99.78},{"g":"CIP","j":-0.25,"v":99.82},{"g":"CIP","j":0.21,"v":99.86},{"g":"CIP","j":-0.07,"v":99.9},{"g":"CIP","j":0.34,"v":99.94},{"g":"CIP","j":-0.18,"v":99.98},{"g":"CIP","j":0.10,"v":99.7},{"g":"CIP","j":-0.29,"v":99.75},{"g":"CIP","j":0.26,"v":99.8},{"g":"CIP","j":0.00,"v":99.85},{"g":"CIP","j":-0.36,"v":99.9},{"g":"CIP","j":0.17,"v":99.95},{"g":"CIP","j":-0.11,"v":99.73},{"g":"CIP","j":0.31,"v":99.83},{"g":"CIP","j":-0.23,"v":99.93},{"g":"CIP","j":0.07,"v":99.78},{"g":"CIP","j":0.23,"v":99.88},{"g":"CIP","j":-0.05,"v":99.98},{"g":"CIP","j":-0.30,"v":99.8},{"g":"CIP","j":0.13,"v":99.9},{"g":"CIP","j":0.33,"v":100},
{"g":"CIP","j":-0.008,"v":92.4},{"g":"CIP","j":-0.144,"v":92.3},{"g":"CIP","j":-0.32,"v":92.9},{"g":"CIP","j":-0.233,"v":93.0},{"g":"CIP","j":-0.222,"v":93.3},{"g":"CIP","j":0.054,"v":92.7},{"g":"CIP","j":0.059,"v":93.8},{"g":"CIP","j":0.091,"v":94.3},{"g":"CIP","j":0.131,"v":93.5},{"g":"CIP","j":0.205,"v":92.9},{"g":"CIP","j":0.217,"v":93.6},{"g":"CIP","j":0.229,"v":94.3},{"g":"CIP","j":0.25,"v":95.2},{"g":"CIP","j":0.327,"v":94.7},{"g":"CIP","j":0.345,"v":94.3},{"g":"CIP","j":0.141,"v":95.2},{"g":"CIP","j":0.172,"v":94.3},{"g":"CIP","j":0.095,"v":95.5},{"g":"CIP","j":0.004,"v":94.9},{"g":"CIP","j":-0.053,"v":95.5},{"g":"CIP","j":-0.082,"v":95.8},{"g":"CIP","j":-0.129,"v":95.8},{"g":"CIP","j":-0.156,"v":96.4},{"g":"CIP","j":-0.203,"v":95.8},{"g":"CIP","j":-0.203,"v":95.2},{"g":"CIP","j":-0.227,"v":94.6},{"g":"CIP","j":-0.321,"v":95.6},{"g":"CIP","j":-0.345,"v":96.1},{"g":"CIP","j":-0.343,"v":94.4},{"g":"CIP","j":-0.182,"v":96.5},{"g":"CIP","j":-0.096,"v":96.5},{"g":"CIP","j":-0.019,"v":96.8},{"g":"CIP","j":0.064,"v":96.4},{"g":"CIP","j":0.127,"v":95.8},{"g":"CIP","j":0.206,"v":95.1},{"g":"CIP","j":0.294,"v":96.8},{"g":"CIP","j":0.309,"v":96.7},{"g":"CIP","j":-0.25,"v":97.0},{"g":"CIP","j":0.02,"v":97.2},{"g":"CIP","j":0.18,"v":97.1},{"g":"CIP","j":-0.10,"v":96.9},{"g":"CIP","j":0.33,"v":97.3},{"g":"CIP","j":-0.30,"v":97.2},{"g":"CIP","j":0.11,"v":96.95},{"g":"CIP","j":0.26,"v":97.15},
{"g":"CIP","j":-0.013,"v":53.9},{"g":"CIP","j":-0.08,"v":52.6},{"g":"CIP","j":-0.069,"v":50.9},{"g":"CIP","j":-0.3,"v":46.2},{"g":"CIP","j":-0.177,"v":45.2},{"g":"CIP","j":0.105,"v":43.7},{"g":"CIP","j":-0.3,"v":41.5},{"g":"CIP","j":-0.182,"v":39.6},{"g":"CIP","j":-0.008,"v":39.3},{"g":"CIP","j":-0.048,"v":35.1},{"g":"CIP","j":-0.186,"v":33.3},{"g":"CIP","j":0.1,"v":29.5},{"g":"CIP","j":-0.017,"v":28.6},{"g":"CIP","j":-0.113,"v":22.2},{"g":"CIP","j":-0.228,"v":21.4},{"g":"CIP","j":0.354,"v":58.4},{"g":"CIP","j":0.184,"v":56.1},{"g":"CIP","j":-0.28,"v":60.3},{"g":"CIP","j":-0.187,"v":60.9},{"g":"CIP","j":-0.326,"v":63.0},{"g":"CIP","j":-0.36,"v":67.2},{"g":"CIP","j":-0.008,"v":67.0},{"g":"CIP","j":0.289,"v":64.8},{"g":"CIP","j":-0.163,"v":66.0},{"g":"CIP","j":-0.165,"v":70.1},{"g":"CIP","j":0.136,"v":71.2},{"g":"CIP","j":0.3,"v":74.8},{"g":"CIP","j":-0.354,"v":76.5},{"g":"CIP","j":-0.325,"v":74.4},{"g":"CIP","j":0.345,"v":79.7},{"g":"CIP","j":-0.065,"v":78.9},{"g":"CIP","j":-0.142,"v":83.4},{"g":"CIP","j":0.179,"v":88.3},{"g":"CIP","j":-0.182,"v":87.8},{"g":"CIP","j":-0.147,"v":89.4},{"g":"CIP","j":0.26,"v":91.0},{"g":"CIP","j":0.174,"v":91.7},{"g":"CIP","j":-0.11,"v":91.7},{"g":"CIP","j":-0.086,"v":91.4}
]},
"hconcat":[
{
"width":427,"height":600,
"title":{"text":"Regions of Uncertainty"},
"layer":[
{"data":{"name":"roiBox"},"mark":{"type":"rule","color":"#505050","strokeWidth":1,"clip":true},
 "encoding":{
  "x":{"field":"g","type":"nominal","scale":{"domain":["MANUAL","CIP"],"paddingInner":0,"paddingOuter":0.1},
   "axis":{"title":null,"labelAngle":0,"labelFont":"Liberation Sans","labelFontSize":16,"labelFontWeight":"bold","labelColor":"#000000","ticks":false,"domain":false,"labelPadding":12,"labelBaseline":"alphabetic","grid":true,"gridColor":"#d6d6d6","gridWidth":1,"bandPosition":0.5}},
  "y":{"field":"lo","type":"quantitative","scale":{"domain":[-40,840],"nice":false,"zero":false},
   "axis":{"orient":"left","values":[0,100,200,300,400,500,600,700,800],"labelExpr":"datum.value % 200 === 0 ? datum.label : ''","grid":true,
    "gridColor":{"condition":{"test":"datum.value % 200 === 0","value":"#d6d6d6"},"value":"#f4f4f4"},
    "gridWidth":{"condition":{"test":"datum.value % 200 === 0","value":1},"value":0.7},
    "ticks":false,"domain":false,"labelFont":"Liberation Sans","labelFontSize":12,"labelFontWeight":"bold","labelColor":"#000000","labelPadding":2,
    "title":"δ","titleFont":"Liberation Sans","titleFontSize":24,"titleFontWeight":"normal","titleColor":"#000000","titleX":-24,"titleY":344,"titleAngle":-90,"titleAlign":"center","titleBaseline":"alphabetic"}},
  "y2":{"field":"hi"}}},
{"data":{"name":"roiBox"},"mark":{"type":"bar","width":145.6,"stroke":"#6e6e6e","strokeWidth":1,"clip":true},
 "encoding":{
  "x":{"field":"g","type":"nominal","scale":{"domain":["MANUAL","CIP"],"paddingInner":0,"paddingOuter":0.1},"axis":null},
  "y":{"field":"q1","type":"quantitative","axis":{"orient":"left","labels":false,"ticks":false,"domain":false,"grid":false,
    "title":"stability","titleFont":"DejaVu Sans","titleFontSize":15,"titleFontWeight":"normal","titleColor":"#000000","titleX":-21,"titleY":305,"titleAngle":-90,"titleAlign":"center","titleBaseline":"alphabetic"}},
  "y2":{"field":"q3"},
  "fill":{"field":"g","type":"nominal","scale":{"domain":["MANUAL","CIP"],"range":["#F8766D","#00BFC4"]},"legend":null}}},
{"data":{"name":"roiBox"},"mark":{"type":"bar","width":145.6,"stroke":"#333333","strokeWidth":2,"fillOpacity":0},
 "encoding":{
  "x":{"field":"g","type":"nominal","scale":{"domain":["MANUAL","CIP"],"paddingInner":0,"paddingOuter":0.1},"axis":null},
  "y":{"field":"med","type":"quantitative","axis":{"orient":"left","labels":false,"ticks":false,"domain":false,"grid":false,
    "title":"(ml)","titleFont":"Liberation Sans","titleFontSize":19,"titleFontWeight":"normal","titleColor":"#000000","titleX":-26,"titleY":258,"titleAngle":-90,"titleAlign":"center","titleBaseline":"alphabetic"}},
  "y2":{"field":"med"}}},
{"data":{"name":"roi"},"mark":{"type":"point","filled":true,"size":7,"color":"#2a2a2a","opacity":0.85,"clip":true},
 "encoding":{
  "x":{"field":"g","type":"nominal","scale":{"domain":["MANUAL","CIP"],"paddingInner":0,"paddingOuter":0.1},"axis":null},
  "xOffset":{"field":"j","type":"quantitative","scale":{"domain":[-0.5,0.5]}},
  "y":{"field":"v","type":"quantitative","axis":null}}}
],
"resolve":{"scale":{"x":"independent"},"axis":{"x":"independent","y":"independent"}}
},
{
"width":427,"height":600,
"title":{"text":"Dice Similarity Index"},
"layer":[
{"data":{"name":"dsiBox"},"mark":{"type":"rule","color":"#505050","strokeWidth":1,"clip":true},
 "encoding":{
  "x":{"field":"g","type":"nominal","scale":{"domain":["MANUAL","CIP"],"paddingInner":0,"paddingOuter":0.1},
   "axis":{"title":null,"labelAngle":0,"labelFont":"Liberation Sans","labelFontSize":16,"labelFontWeight":"bold","labelColor":"#000000","ticks":false,"domain":false,"labelPadding":12,"labelBaseline":"alphabetic","grid":true,"gridColor":"#d6d6d6","gridWidth":1,"bandPosition":0.5}},
  "y":{"field":"lo","type":"quantitative","scale":{"domain":[-5,105],"nice":false,"zero":false},
   "axis":{"orient":"left","values":[0,12.5,25,37.5,50,62.5,75,87.5,100],"labelExpr":"datum.value % 25 === 0 ? datum.label : ''","format":"d","grid":true,
    "gridColor":{"condition":{"test":"datum.value % 25 === 0","value":"#d6d6d6"},"value":"#f4f4f4"},
    "gridWidth":{"condition":{"test":"datum.value % 25 === 0","value":1},"value":0.7},
    "ticks":false,"domain":false,"labelFont":"Liberation Sans","labelFontSize":12,"labelFontWeight":"bold","labelColor":"#000000","labelPadding":2,
    "title":"dsi","titleFont":"Liberation Sans","titleFontSize":21,"titleFontWeight":"normal","titleColor":"#000000","titleX":-28,"titleY":345,"titleAngle":-90,"titleAlign":"center","titleBaseline":"alphabetic"}},
  "y2":{"field":"hi"}}},
{"data":{"name":"dsiBox"},"mark":{"type":"bar","width":145.6,"stroke":"#6e6e6e","strokeWidth":1,"clip":true},
 "encoding":{
  "x":{"field":"g","type":"nominal","scale":{"domain":["MANUAL","CIP"],"paddingInner":0,"paddingOuter":0.1},"axis":null},
  "y":{"field":"q1","type":"quantitative","axis":{"orient":"left","labels":false,"ticks":false,"domain":false,"grid":false,
    "title":"stability","titleFont":"DejaVu Sans","titleFontSize":15,"titleFontWeight":"normal","titleColor":"#000000","titleX":-22,"titleY":299,"titleAngle":-90,"titleAlign":"center","titleBaseline":"alphabetic"}},
  "y2":{"field":"q3"},
  "fill":{"field":"g","type":"nominal","scale":{"domain":["MANUAL","CIP"],"range":["#F8766D","#00BFC4"]},"legend":null}}},
{"data":{"name":"dsiBox"},"mark":{"type":"bar","width":145.6,"stroke":"#333333","strokeWidth":2,"fillOpacity":0},
 "encoding":{
  "x":{"field":"g","type":"nominal","scale":{"domain":["MANUAL","CIP"],"paddingInner":0,"paddingOuter":0.1},"axis":null},
  "y":{"field":"med","type":"quantitative","axis":{"orient":"left","labels":false,"ticks":false,"domain":false,"grid":false,
    "title":"(%)","titleFont":"Liberation Sans","titleFontSize":19,"titleFontWeight":"normal","titleColor":"#000000","titleX":-28,"titleY":253,"titleAngle":-90,"titleAlign":"center","titleBaseline":"alphabetic"}},
  "y2":{"field":"med"}}},
{"data":{"name":"dsi"},"mark":{"type":"point","filled":true,"size":7,"color":"#2a2a2a","opacity":0.85,"clip":true},
 "encoding":{
  "x":{"field":"g","type":"nominal","scale":{"domain":["MANUAL","CIP"],"paddingInner":0,"paddingOuter":0.1},"axis":null},
  "xOffset":{"field":"j","type":"quantitative","scale":{"domain":[-0.5,0.5]}},
  "y":{"field":"v","type":"quantitative","axis":null}}}
],
"resolve":{"scale":{"x":"independent"},"axis":{"x":"independent","y":"independent"}}
}
]
}
